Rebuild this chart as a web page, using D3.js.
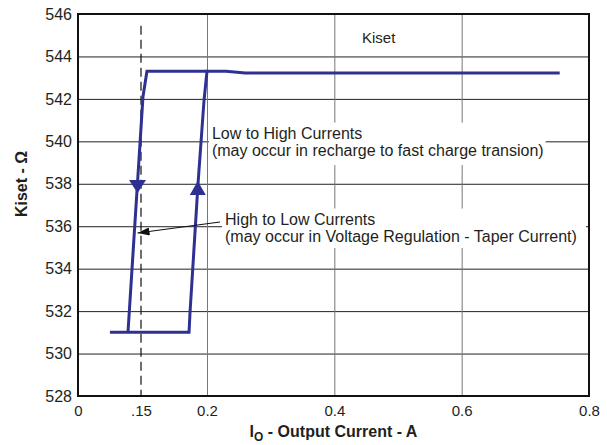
<!DOCTYPE html>
<html>
<head>
<meta charset="utf-8">
<script src="https://cdn.jsdelivr.net/npm/d3@7"></script>
<style>
  html, body { margin: 0; padding: 0; background: #fff; }
  svg { display: block; font-family: "Liberation Sans", Arial, sans-serif; }
</style>
</head>
<body>
<svg id="chart" width="607" height="445"></svg>
<script>
// ---- data ----
const xTickValues = [0, 0.15, 0.2, 0.4, 0.6, 0.8];
const xTickLabels = ["0", ".15", "0.2", "0.4", "0.6", "0.8"];
const yTickValues = [528, 530, 532, 534, 536, 538, 540, 542, 544, 546];
const xGridValues = [0.2, 0.4, 0.6];
const dashedX = 0.15;

// Low-to-high branch (bottom plateau, right rising edge, top plateau)
const lowToHighX = [0.076, 0.119, 0.1864, 0.1871, 0.1932, 0.1977, 0.2, 0.23, 0.26, 0.754];
const lowToHighY = [531.0, 531.0, 531.0, 531.9, 538.0, 541.9, 543.3, 543.3, 543.22, 543.22];
// High-to-low branch (top plateau back to the left, left falling edge)
const highToLowX = [0.2, 0.1545, 0.1515, 0.119];
const highToLowY = [543.3, 543.3, 542.1, 531.0];

const markerDown = { x: 0.1417, y: 537.9 };
const markerUp = { x: 0.193, y: 537.8 };

const labelKiset = "Kiset";
const note1 = ["Low to High Currents", "(may occur in recharge to fast charge transion)"];
const note2 = ["High to Low Currents", "(may occur in Voltage Regulation - Taper Current)"];
const leaderFrom = { x: 0.2204, y: 536.2 };
const leaderTo = { x: 0.1417, y: 535.68 };

// ---- layout ----
const svg = d3.select("#chart");
const W = 607, H = 445;
const m = { top: 14, right: 18, bottom: 49, left: 78 };
const w = W - m.left - m.right, h = H - m.top - m.bottom;
const g = svg.append("g").attr("transform", `translate(${m.left},${m.top})`);

const blue = "#2e3192";
const ink = "#231f20";
const font = "Liberation Sans, Arial, sans-serif";

// piecewise axis as printed on the original chart
const x = d3.scaleLinear()
  .domain([0, 0.15, 0.2, 0.8])
  .range([0, w * 63 / 511, w * 129 / 511, w]);
const y = d3.scaleLinear().domain([528, 546]).range([h, 0]);

// horizontal grid
g.append("g").call(d3.axisLeft(y).tickValues(yTickValues).tickSize(-w).tickFormat(""))
  .call(a => a.select(".domain").remove())
  .selectAll("line").attr("stroke", "#222").attr("stroke-width", 1);

// vertical grid
g.append("g").attr("transform", `translate(0,${h})`)
  .call(d3.axisBottom(x).tickValues(xGridValues).tickSize(-h).tickFormat(""))
  .call(a => a.select(".domain").remove())
  .selectAll("line").attr("stroke", "#777").attr("stroke-width", 1);

// tick labels
g.append("g").attr("transform", `translate(0,${h})`)
  .call(d3.axisBottom(x).tickValues(xTickValues).tickSize(0).tickPadding(9)
    .tickFormat((d, i) => xTickLabels[i]))
  .call(a => a.select(".domain").remove())
  .selectAll("text").attr("font-size", 15).attr("fill", ink).attr("font-family", font);

g.append("g")
  .call(d3.axisLeft(y).tickValues(yTickValues).tickSize(0).tickPadding(6))
  .call(a => a.select(".domain").remove())
  .selectAll("text").attr("font-size", 16).attr("fill", ink).attr("font-family", font);

// dashed line
g.append("line")
  .attr("x1", x(dashedX)).attr("x2", x(dashedX))
  .attr("y1", y(545.45)).attr("y2", y(528))
  .attr("stroke", "#111").attr("stroke-width", 1.2)
  .attr("stroke-dasharray", "9,5");

// Kiset label
g.append("text").attr("x", x(0.4434)).attr("y", y(544.63))
  .attr("font-size", 15).attr("fill", ink).text(labelKiset);

// annotation boxes
function note(lines, px, py, pad) {
  const grp = g.append("g");
  const rect = grp.append("rect").attr("fill", "#fff");
  const t = grp.append("text").attr("font-size", 16).attr("fill", ink);
  lines.forEach((s, i) => t.append("tspan").attr("x", px).attr("y", py + i * 17.5).text(s));
  const bb = t.node().getBBox();
  rect.attr("x", bb.x - pad[3]).attr("y", bb.y - pad[0])
    .attr("width", bb.width + pad[1] + pad[3]).attr("height", bb.height + pad[0] + pad[2]);
}
note(note1, x(0.2078), y(540.13), [2, 2, 6, 3]);
note(note2, x(0.2283), y(536.08), [2, 9, 3, 3]);

// lines
const line = d3.line().x(d => x(d[0])).y(d => y(d[1]));
const lth = lowToHighX.map((v, i) => [v, lowToHighY[i]]);
const htl = highToLowX.map((v, i) => [v, highToLowY[i]]);
[lth, htl].forEach(d => {
  g.append("path").datum(d).attr("d", line)
    .attr("fill", "none").attr("stroke", blue).attr("stroke-width", 3)
    .attr("stroke-linejoin", "miter");
});

// direction markers
g.append("path").attr("transform", `translate(${x(markerDown.x)},${y(markerDown.y)})`)
  .attr("d", "M-8.5,-6L8.5,-6L0,7Z").attr("fill", blue);
g.append("path").attr("transform", `translate(${x(markerUp.x)},${y(markerUp.y)})`)
  .attr("d", "M-8,7L8,7L0,-7Z").attr("fill", blue);

// leader arrow
svg.append("defs").append("marker").attr("id", "ah")
  .attr("viewBox", "0 0 12 8").attr("refX", 12).attr("refY", 4)
  .attr("markerWidth", 12).attr("markerHeight", 8).attr("markerUnits", "userSpaceOnUse")
  .attr("orient", "auto")
  .append("path").attr("d", "M0,0L12,4L0,8Z").attr("fill", "#111");
g.append("line")
  .attr("x1", x(leaderFrom.x)).attr("y1", y(leaderFrom.y))
  .attr("x2", x(leaderTo.x)).attr("y2", y(leaderTo.y))
  .attr("stroke", "#111").attr("stroke-width", 1.2).attr("marker-end", "url(#ah)");

// frame
g.append("rect").attr("width", w).attr("height", h)
  .attr("fill", "none").attr("stroke", "#111").attr("stroke-width", 2);

// axis titles
const xt = svg.append("text").attr("x", m.left + w / 2).attr("y", 437)
  .attr("text-anchor", "middle").attr("font-size", 16).attr("font-weight", "bold").attr("fill", ink);
xt.append("tspan").text("I");
xt.append("tspan").attr("font-size", 12).attr("dy", 4).text("O");
xt.append("tspan").attr("dy", -4).text(" - Output Current - A");

svg.append("text").attr("transform", `translate(27,184) rotate(-90)`)
  .attr("text-anchor", "middle").attr("font-size", 16).attr("font-weight", "bold").attr("fill", ink)
  .text("Kiset - Ω");
</script>
</body>
</html>
